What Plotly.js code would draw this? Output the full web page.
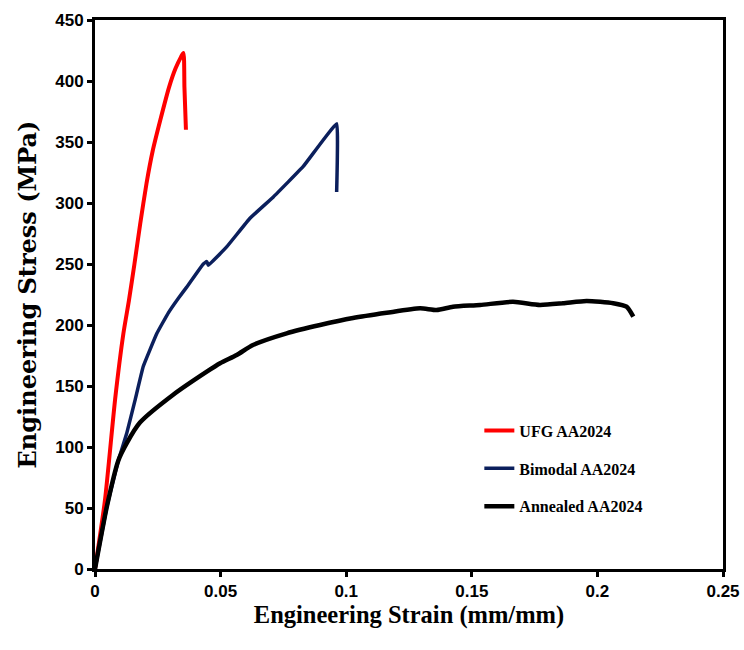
<!DOCTYPE html>
<html>
<head>
<meta charset="utf-8">
<script src="https://cdn.plot.ly/plotly-3.0.1.min.js"></script>
<style>html,body{margin:0;padding:0;background:#fff;}#chart{width:744px;height:650px;}</style>
</head>
<body>
<div id="chart"></div>
<script>
// UFG AA2024
const ufgStrain = [0, 0.004, 0.008, 0.0113, 0.0135, 0.0157, 0.018, 0.0205, 0.023, 0.026, 0.0295, 0.032, 0.0343, 0.0352, 0.0356, 0.0362];
const ufgStress = [0, 57, 139, 193, 220, 250, 283, 316, 343, 368, 395, 410, 420, 423, 395, 360];
// Bimodal AA2024
const bimStrain = [0, 0.0047, 0.0093, 0.0126, 0.0159, 0.0192, 0.0246, 0.0292, 0.0332, 0.0365, 0.0431, 0.0445, 0.0451, 0.0524, 0.0617, 0.071, 0.0829, 0.0962, 0.0962];
const bimStress = [0, 51, 89, 111, 138, 166, 193, 210, 222, 231, 250, 252, 249, 264, 287.5, 305, 330, 365, 309];
// Annealed AA2024
const annStrain = [0, 0.0047, 0.0093, 0.0126, 0.0179, 0.031, 0.0445, 0.0498, 0.0564, 0.0629, 0.0763, 0.0896, 0.1027, 0.1161, 0.1294, 0.136, 0.1425, 0.1533, 0.1664, 0.1771, 0.1863, 0.1957, 0.2063, 0.2116, 0.2143];
const annStress = [0, 51, 89, 103, 120, 142.6, 161.7, 168.6, 175.4, 183.6, 193.2, 200, 205.7, 210, 213.7, 212.3, 215, 216.4, 219, 216.4, 217.8, 219.7, 217.8, 215, 206.8];

const seriesNames = ['UFG AA2024', 'Bimodal AA2024', 'Annealed AA2024'];
const xTicks = [0, 0.05, 0.1, 0.15, 0.2, 0.25];
const yTicks = [0, 50, 100, 150, 200, 250, 300, 350, 400, 450];

const traces = [
  {x: ufgStrain, y: ufgStress, name: seriesNames[0], mode: 'lines', legendgroup: 'a',
   line: {color: '#ff0000', width: 4, shape: 'spline', smoothing: 0.6}},
  {x: bimStrain, y: bimStress, name: seriesNames[1], mode: 'lines', legendgroup: 'b',
   line: {color: '#0b1f5c', width: 3.5, shape: 'spline', smoothing: 0.25}},
  {x: annStrain, y: annStress, name: seriesNames[2], mode: 'lines', legendgroup: 'c',
   line: {color: '#000000', width: 4.5, shape: 'spline', smoothing: 0.6}}
];

const tickFont = {family: 'Liberation Sans Narrow, Liberation Sans, Arial, sans-serif', size: 17, color: '#000', weight: 'bold'};

const layout = {
  width: 744, height: 650,
  margin: {l: 95, r: 21, t: 20, b: 81},
  paper_bgcolor: '#fff', plot_bgcolor: '#fff',
  showlegend: true,
  legend: {x: 0.612, y: 0.283, xanchor: 'left', yanchor: 'top', bgcolor: 'rgba(0,0,0,0)',
    font: {family: 'Liberation Serif, DejaVu Serif, serif', size: 16, color: '#000', weight: 'bold'},
    traceorder: 'grouped', tracegroupgap: 14, itemwidth: 30},
  xaxis: {range: [0, 0.25], tickvals: xTicks, ticktext: xTicks.map(String),
    showgrid: false, zeroline: false, showline: true, linecolor: '#000', linewidth: 3, mirror: true,
    ticks: 'outside', ticklen: 5, tickwidth: 3, tickcolor: '#000', tickfont: tickFont,
    title: {text: 'Engineering Strain (mm/mm)', standoff: 2,
      font: {family: 'Liberation Serif, DejaVu Serif, serif', size: 24.5, color: '#000', weight: 'bold'}}},
  yaxis: {range: [0, 450], tickvals: yTicks, ticktext: yTicks.map(String),
    showgrid: false, zeroline: false, showline: true, linecolor: '#000', linewidth: 3, mirror: true,
    ticks: 'outside', ticklen: 5, tickwidth: 3, tickcolor: '#000', tickfont: tickFont,
    title: {text: 'Engineering Stress (MPa)', standoff: 12,
      font: {family: 'DejaVu Serif, Liberation Serif, serif', size: 24, color: '#000', weight: 'bold'}}}
};

Plotly.newPlot('chart', traces, layout, {displayModeBar: false, staticPlot: true});
</script>
</body>
</html>
